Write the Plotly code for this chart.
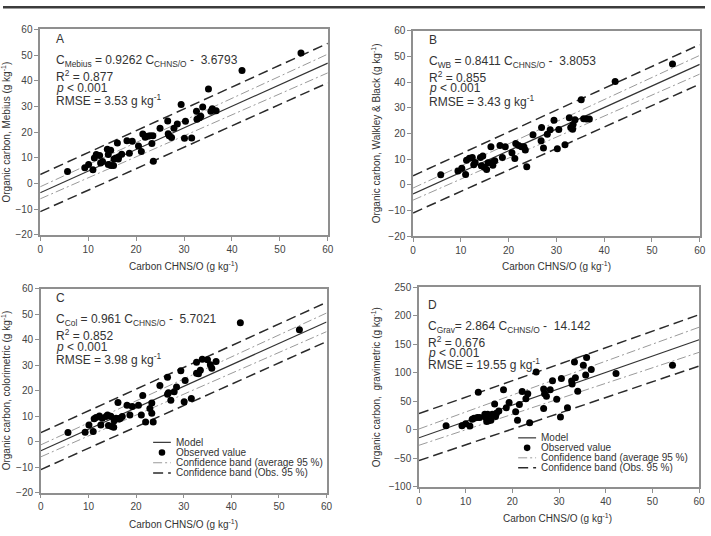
import numpy as np
import plotly.graph_objects as go

W, H = 711, 536

# ---------------- data ----------------
# Panel A : Mebius
xa = [5.7, 9.3, 10.1, 11.0, 11.3, 11.7, 12.4, 12.6, 13.0, 14.0, 14.2, 14.2, 14.7, 14.8, 15.3, 15.4,
      15.8, 16.1, 16.3, 16.4, 17.0, 18.1, 18.6, 19.2, 20.5, 21.1, 21.4, 21.9, 22.4, 22.9, 23.3, 23.5,
      23.6, 25.0, 26.6, 26.7, 26.9, 27.4, 27.9, 28.6, 29.4, 30.1, 30.3, 31.6, 32.6, 32.7, 33.2, 33.5,
      33.9, 35.1, 35.6, 35.9, 36.7, 42.1, 54.4]
ya = [4.7, 6.1, 7.4, 5.3, 9.9, 11.3, 10.9, 8.0, 8.6, 13.3, 11.3, 7.4, 12.9, 7.0, 7.0, 9.5,
      9.9, 15.8, 9.5, 10.4, 11.4, 16.6, 11.8, 16.4, 14.6, 12.5, 19.3, 18.0, 18.4, 18.6, 15.6, 18.6,
      8.7, 21.5, 24.3, 19.4, 18.6, 17.9, 21.5, 23.2, 30.8, 17.6, 24.2, 17.7, 28.1, 25.0, 25.6, 26.2,
      29.8, 36.8, 28.1, 29.1, 28.3, 44.0, 50.8]

# Panel B : Walkley & Black
xb = [5.8, 9.4, 10.2, 11.0, 11.2, 11.8, 12.4, 12.7, 13.0, 14.1, 14.3, 14.6, 14.9, 15.4, 15.7, 16.3,
      16.5, 16.7, 17.1, 18.2, 18.7, 19.3, 20.7, 21.3, 21.5, 22.1, 22.7, 23.2, 23.5, 23.8, 25.1, 26.9,
      26.8, 27.3, 28.1, 28.7, 29.5, 30.2, 30.5, 31.8, 32.7, 33.0, 33.4, 33.5, 33.9, 35.2, 35.7, 36.3,
      36.9, 42.3, 54.3]
yb = [3.9, 5.3, 6.4, 4.0, 9.5, 10.3, 10.6, 7.8, 8.7, 10.6, 7.4, 11.2, 6.8, 5.9, 8.6, 14.8,
      8.7, 7.6, 9.3, 15.3, 10.6, 14.8, 12.5, 10.2, 16.1, 15.3, 14.8, 14.8, 13.5, 7.0, 19.5, 22.3,
      17.1, 14.3, 19.7, 21.4, 25.1, 14.0, 21.5, 15.6, 26.1, 22.3, 21.6, 23.5, 25.3, 33.1, 25.7, 25.6,
      25.6, 40.2, 47.0]

# Panel C : colorimetric
xc = [5.7, 9.3, 10.1, 11.0, 11.2, 11.6, 12.3, 12.6, 12.9, 13.7, 14.0, 14.2, 14.7, 14.9, 15.3, 15.4,
      15.8, 16.2, 16.4, 16.7, 17.1, 18.1, 18.7, 19.2, 20.5, 21.1, 21.4, 22.0, 22.9, 23.3, 23.3, 23.6,
      25.0, 26.6, 26.6, 26.8, 27.3, 28.0, 28.5, 29.4, 30.1, 30.3, 31.6, 32.7, 32.7, 33.1, 33.5, 33.9,
      35.0, 35.6, 35.9, 36.8, 41.9, 54.3]
yc = [3.5, 3.6, 6.5, 3.9, 8.9, 9.4, 10.0, 6.5, 9.1, 9.8, 10.4, 6.3, 9.9, 5.9, 5.6, 8.2,
      9.1, 15.3, 8.8, 9.1, 9.8, 14.2, 10.4, 13.7, 14.2, 10.4, 18.1, 7.7, 13.0, 15.1, 11.1, 7.7,
      22.0, 25.2, 18.5, 19.1, 16.2, 19.5, 21.4, 27.8, 15.6, 23.9, 16.9, 31.1, 26.8, 26.6, 28.0, 32.3,
      32.1, 30.1, 28.7, 31.4, 46.6, 43.8]

# Panel D : gravimetric
xd = [5.8, 9.2, 10.0, 10.9, 11.4, 11.8, 12.5, 12.7, 13.0, 14.1, 14.3, 14.5, 14.7, 14.9, 15.4, 15.7,
      16.2, 16.4, 16.6, 17.1, 18.1, 18.7, 19.3, 20.7, 21.1, 21.5, 22.1, 22.9, 23.3, 23.7, 25.1, 26.7,
      26.7, 26.9, 27.3, 28.1, 28.6, 29.5, 30.3, 30.5, 31.8, 32.7, 32.8, 33.3, 33.5, 34.0, 35.2, 35.7,
      35.9, 36.9, 42.2, 54.3]
yd = [7.4, 7.4, 10.8, 6.8, 18.8, 20.5, 21.7, 66.2, 21.7, 27.3, 21.7, 14.8, 27.3, 16.0, 17.1, 27.3,
      45.6, 23.4, 29.1, 33.1, 70.2, 38.8, 47.9, 31.9, 17.1, 44.5, 67.3, 54.8, 63.3, 12.5, 101.4, 37.6,
      71.9, 63.3, 58.8, 70.2, 86.1, 53.6, 22.8, 90.1, 38.8, 85.6, 80.5, 119.2, 91.3, 67.9, 113.5, 96.3,
      127.1, 106.0, 99.1, 113.5]

# regression line and bands, values at x = 0 and x = 60
# order: obs. 95% upper, average 95% upper, model, average 95% lower, obs. 95% lower
line_x = [0, 60]
abc_at0 = [3.5, -1.3, -3.6, -6.0, -11.0]
abc_at60 = [54.6, 50.4, 46.9, 43.1, 39.2]
d_at0 = [28.5, 1.7, -13.8, -26.9, -53.7]
d_at60 = [202.0, 180.0, 158.0, 136.0, 112.0]

x_ticks = [0, 10, 20, 30, 40, 50, 60]
y_ticks_abc = [-20, -10, 0, 10, 20, 30, 40, 50, 60]
y_ticks_d = [-100, -50, 0, 50, 100, 150, 200, 250]

legend_labels = ["Model", "Observed value", "Confidence band (average 95 %)",
                 "Confidence band (Obs. 95 %)"]

panel_letters = ["A", "B", "C", "D"]
equations = [
    "C<sub>Mebius</sub> = 0.9262 C<sub>CHNS/O</sub> -&nbsp; 3.6793",
    "C<sub>WB</sub> = 0.8411 C<sub>CHNS/O</sub> -&nbsp; 3.8053",
    "C<sub>Col</sub> = 0.961 C<sub>CHNS/O</sub> -&nbsp; 5.7021",
    "C<sub>Grav</sub>= 2.864 C<sub>CHNS/O</sub> -&nbsp; 14.142",
]
r2_vals = ["0.877", "0.855", "0.852", "0.676"]
rmse_vals = ["3.53", "3.43", "3.98", "19.55"]
y_titles = [
    "Organic carbon, Mebius (g kg<sup>-1</sup>)",
    "Organic carbon, Walkley &amp; Black (g kg<sup>-1</sup>)",
    "Organic carbon, colorimetric (g kg<sup>-1</sup>)",
    "Organic carbon,  gravimetric (g kg<sup>-1</sup>)",
]
x_title = "Carbon CHNS/O (g kg<sup>-1</sup>)"

# ---------------- styling ----------------
FONT = "Arial, Liberation Sans, sans-serif"
TXT = "#333333"
FRAME = "#8f8f8f"
line_styles = [
    dict(color="#2a2a2a", width=1.5, dash="10px,5px"),
    dict(color="#9a9a9a", width=1.0, dash="9px,3px,2px,3px"),
    dict(color="#333333", width=1.2, dash="solid"),
    dict(color="#9a9a9a", width=1.0, dash="9px,3px,2px,3px"),
    dict(color="#2a2a2a", width=1.5, dash="10px,5px"),
]

domains = [
    ([0.0530, 0.4627], [0.5634, 0.9552]),
    ([0.5841, 0.9925], [0.5610, 0.9528]),
    ([0.0539, 0.4609], [0.0715, 0.4608]),
    ([0.5926, 0.9916], [0.0821, 0.4632]),
]
# x-axis title centres (pixels)
x_title_pos = [(183.0, 265.7), (561.0, 265.7), (183.0, 530.0), (561.5, 523.3)]

panels = [
    (xa, ya, abc_at0, abc_at60, [-20, 60], y_ticks_abc),
    (xb, yb, abc_at0, abc_at60, [-20, 60], y_ticks_abc),
    (xc, yc, abc_at0, abc_at60, [-20, 60], y_ticks_abc),
    (xd, yd, d_at0, d_at60, [-100, 250], y_ticks_d),
]


def P(x, y):
    return x / W, 1 - y / H


fig = go.Figure()
layout = dict(
    width=W, height=H, margin=dict(l=0, r=0, t=0, b=0),
    paper_bgcolor="white", plot_bgcolor="white", showlegend=False,
    font=dict(family=FONT, size=10, color=TXT),
    annotations=[], shapes=[],
)

for i, (px_, py_, at0, at60, yr, yt) in enumerate(panels):
    n = "" if i == 0 else str(i + 1)
    xr, yrf = "x" + n, "y" + n
    for k in range(5):
        fig.add_trace(go.Scatter(x=line_x, y=[at0[k], at60[k]], mode="lines",
                                 line=line_styles[k], xaxis=xr, yaxis=yrf,
                                 hoverinfo="skip"))
    fig.add_trace(go.Scatter(x=px_, y=py_, mode="markers", xaxis=xr, yaxis=yrf,
                             marker=dict(color="black", size=7, line=dict(width=0))))
    xd_, yd_ = domains[i]
    axcommon = dict(showline=True, linecolor=FRAME, linewidth=1.5, mirror=True,
                    ticks="outside", ticklen=4, tickcolor=FRAME, tickwidth=1,
                    showgrid=False, zeroline=False,
                    tickfont=dict(family=FONT, size=10, color="#444444"))
    layout["xaxis" + n] = dict(domain=xd_, range=[0, 60], tickvals=x_ticks,
                               anchor=yrf, **axcommon)
    layout["yaxis" + n] = dict(domain=yd_, range=yr, tickvals=yt, anchor=xr,
                               title=dict(text=y_titles[i], standoff=6,
                                          font=dict(size=10, color=TXT)),
                               **axcommon)
    tx, ty = P(*x_title_pos[i])
    layout["annotations"].append(dict(
        x=tx, y=ty, xref="paper", yref="paper", text=x_title, showarrow=False,
        xanchor="center", yanchor="middle", font=dict(family=FONT, size=10, color=TXT)))

text_pos = [  # left x, y of letter, eq, R2, p, RMSE
    (51.5, [34, 56, 72, 83.5, 96]),
    (429.5, [35, 57.3, 72.7, 84, 96.7]),
    (51.5, [298.3, 321, 336.7, 348.3, 360.7]),
    (428.0, [306.3, 328.3, 344, 355, 366]),
]
for i in range(4):
    x0, ys = text_pos[i]
    lines = [panel_letters[i], equations[i], "R<sup>2</sup> = " + r2_vals[i],
             "<i>p</i> &lt; 0.001", "RMSE = " + rmse_vals[i] + " g kg<sup>-1</sup>"]
    for t, yy in zip(lines, ys):
        ax_, ay_ = P(x0, yy)
        layout["annotations"].append(dict(
            x=ax_, y=ay_, xref="paper", yref="paper", text=t, showarrow=False,
            xanchor="left", yanchor="middle", font=dict(family=FONT, size=12, color=TXT)))

# legends for panels C and D (drawn in axis-domain coordinates)
leg_rows = [0.246, 0.196, 0.146, 0.096]
leg_specs = [("x3 domain", "y3 domain", 0.393, 0.455, 0.466),
             ("x4 domain", "y4 domain", 0.354, 0.418, 0.429)]
leg_line_style = [line_styles[2], None, line_styles[1], line_styles[0]]
for xref, yref, l0, l1, tx in leg_specs:
    for r, lab in enumerate(legend_labels):
        yy = leg_rows[r]
        if leg_line_style[r] is not None:
            st = leg_line_style[r]
            layout["shapes"].append(dict(type="line", xref=xref, yref=yref,
                                         x0=l0, x1=l1, y0=yy, y1=yy,
                                         line=dict(color=st["color"], width=st["width"],
                                                   dash=st["dash"])))
        else:
            layout["shapes"].append(dict(type="circle", xref=xref, yref=yref,
                                         xsizemode="pixel", ysizemode="pixel",
                                         xanchor=(l0 + l1) / 2, yanchor=yy,
                                         x0=-3.3, x1=3.3, y0=-3.3, y1=3.3,
                                         fillcolor="black", line=dict(width=0)))
        layout["annotations"].append(dict(
            x=tx, y=yy, xref=xref, yref=yref, text=lab, showarrow=False,
            xanchor="left", yanchor="middle", font=dict(family=FONT, size=10, color=TXT)))

# dark strip at the very top of the image
layout["shapes"].append(dict(type="rect", xref="paper", yref="paper", x0=0, x1=1,
                             y0=1 - 2.5 / H, y1=1, fillcolor="#3c3c3c", line=dict(width=0)))

fig.update_layout(**layout)
fig.write_html("out.html")
